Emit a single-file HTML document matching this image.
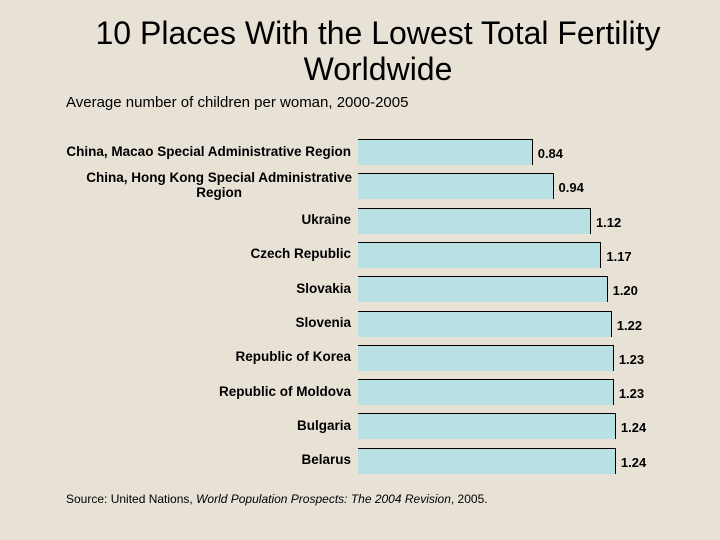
<!DOCTYPE html>
<html><head><meta charset="utf-8"><style>
body{margin:0;width:720px;height:540px;background:#e8e1d6;font-family:"Liberation Sans",sans-serif;position:relative;overflow:hidden}
#title{position:absolute;left:0;width:756px;top:15px;text-align:center;font-size:32px;line-height:36px;color:#000}
#sub{position:absolute;left:66px;top:94px;font-size:15px}
#src{position:absolute;left:66px;top:492px;font-size:12px}
.lab{position:absolute;right:369px;text-align:right;font-weight:bold;font-size:13.5px;line-height:15px;white-space:nowrap}
.val{position:absolute;font-weight:bold;font-size:13px}
.bar{position:absolute;background:#b9e0e3;border-right:1.5px solid #000;border-top:1.5px solid #000;box-sizing:border-box}
</style></head><body>
<div id="title">10 Places With the Lowest Total Fertility<br>Worldwide</div>
<div id="sub">Average number of children per woman, 2000-2005</div>
<div id="chart"></div>
<div id="src">Source: United Nations, <i>World Population Prospects: The 2004 Revision</i>, 2005.</div>
<script>
const categories=["China, Macao Special Administrative Region","China, Hong Kong Special Administrative<br>Region","Ukraine","Czech Republic","Slovakia","Slovenia","Republic of Korea","Republic of Moldova","Bulgaria","Belarus"];
const values=[0.84,0.94,1.12,1.17,1.20,1.22,1.23,1.23,1.24,1.24];
const valueLabels=["0.84","0.94","1.12","1.17","1.20","1.22","1.23","1.23","1.24","1.24"];
const x0=358,pxPerUnit=208,y0=139,step=34.3,bh=26;
const xs=v=>v*pxPerUnit;
const ys=i=>y0+i*step;
const c=document.getElementById('chart');
values.forEach((v,i)=>{
 const b=document.createElement('div');b.className='bar';
 
 
 b.style.left=x0+'px';b.style.top=ys(i)+'px';b.style.width=xs(v)+'px';b.style.height=bh+'px';
 c.appendChild(b);
 const t=document.createElement('div');t.className='val';
 
 
 t.textContent=valueLabels[i];
 t.style.left=(x0+xs(v)+5)+'px';t.style.top=(ys(i)+7)+'px';
 c.appendChild(t);
 const l=document.createElement('div');l.className='lab';
 
 
 l.innerHTML=categories[i];
 const two=categories[i].includes('<br>');
 l.style.top=(ys(i)+bh/2-(two?15:7.5)-1)+'px';
 if(two)l.style.textAlign='center',l.style.right='368px';
 c.appendChild(l);
});
</script>
</body></html>
